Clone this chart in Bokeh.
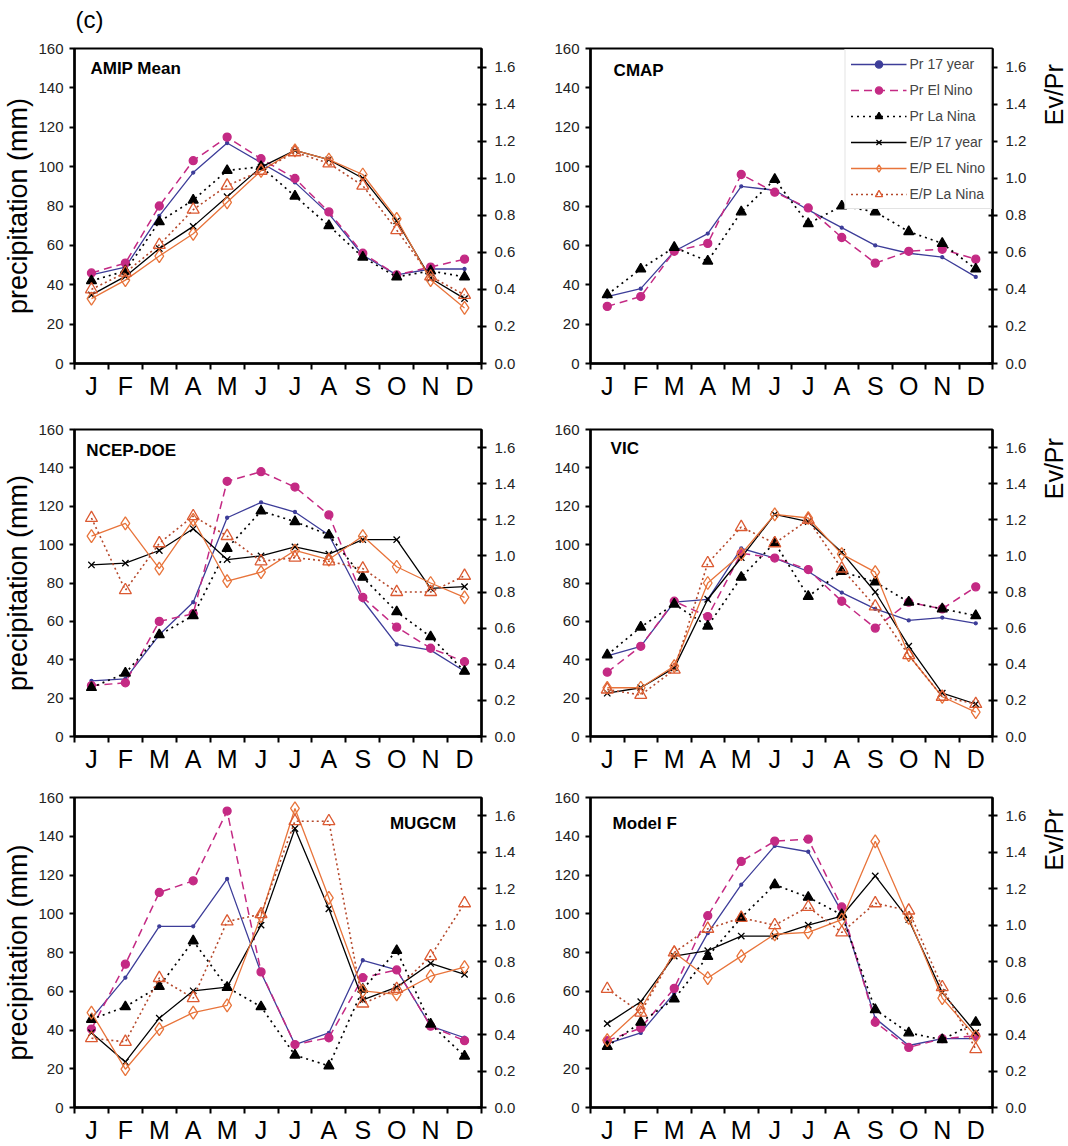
import json
from math import pi

import numpy as np
from bokeh.embed import file_html
from bokeh.layouts import column, row
from bokeh.models import (ColumnDataSource, CustomJSTickFormatter, FixedTicker, Label,
                          Legend, LegendItem, LinearAxis, PrintfTickFormatter, Range1d)
from bokeh.plotting import figure
from bokeh.resources import INLINE

FONT = "Liberation Sans"

# ---- data -----------------------------------------------------------------
month_labels = ["J", "F", "M", "A", "M", "J", "J", "A", "S", "O", "N", "D"]
pr_ticks = [0, 20, 40, 60, 80, 100, 120, 140, 160]
ep_ticks = [0.0, 0.2, 0.4, 0.6, 0.8, 1.0, 1.2, 1.4, 1.6]

# AMIP Mean
amip_pr17 = [45, 49, 75, 97, 112, 102, 92, 76, 55, 45, 48, 48]
amip_pr_en = [46, 51, 80, 103, 115, 104, 94, 77, 56, 45, 49, 53]
amip_pr_ln = [42, 47, 72, 83, 98, 100, 85, 70, 54, 44, 47, 44]
amip_ep17 = [0.37, 0.47, 0.62, 0.74, 0.90, 1.06, 1.15, 1.10, 1.00, 0.77, 0.46, 0.35]
amip_ep_en = [0.35, 0.45, 0.58, 0.70, 0.87, 1.04, 1.15, 1.10, 1.02, 0.78, 0.45, 0.30]
amip_ep_ln = [0.40, 0.49, 0.64, 0.83, 0.96, 1.04, 1.14, 1.08, 0.96, 0.72, 0.47, 0.37]

# CMAP (precipitation only)
cmap_pr17 = [34, 38, 57, 66, 90, 88, 78, 69, 60, 56, 54, 44]
cmap_pr_en = [29, 34, 57, 61, 96, 87, 79, 64, 51, 57, 58, 53]
cmap_pr_ln = [35, 48, 59, 52, 77, 93.5, 71, 80, 77, 67, 61, 48]

# NCEP-DOE
ncep_pr17 = [29, 30, 53, 70, 114, 122, 117, 105, 71, 48, 45, 34]
ncep_pr_en = [26.5, 28, 60, 64, 133, 138, 130, 115.5, 72.5, 57, 46, 39]
ncep_pr_ln = [25.5, 33, 53, 63, 98, 117.5, 112, 105, 83, 65, 52, 34]
ncep_ep17 = [0.95, 0.96, 1.03, 1.15, 0.98, 1.00, 1.05, 1.01, 1.09, 1.09, 0.82, 0.83]
ncep_ep_en = [1.11, 1.18, 0.93, 1.20, 0.86, 0.91, 1.03, 0.98, 1.11, 0.94, 0.85, 0.77]
ncep_ep_ln = [1.21, 0.81, 1.07, 1.22, 1.11, 0.97, 0.99, 0.97, 0.93, 0.80, 0.80, 0.89]

# VIC
vic_pr17 = [42, 47, 70, 71.5, 98, 93, 86, 75, 66.5, 60.5, 62, 59]
vic_pr_en = [33.5, 47, 70.5, 62.5, 95.5, 93, 87, 70.5, 56.5, 70, 66.5, 78]
vic_pr_ln = [42.5, 57, 69, 57.5, 83, 101, 73, 86, 80.5, 70, 66.5, 63]
vic_ep17 = [0.24, 0.27, 0.38, 0.76, 0.99, 1.23, 1.19, 1.02, 0.80, 0.50, 0.24, 0.18]
vic_ep_en = [0.27, 0.27, 0.39, 0.85, 1.01, 1.23, 1.21, 1.01, 0.91, 0.45, 0.22, 0.135]
vic_ep_ln = [0.26, 0.23, 0.37, 0.96, 1.16, 1.07, 1.20, 0.93, 0.72, 0.45, 0.22, 0.18]

# MUGCM
mug_pr17 = [46, 67, 93.5, 93.5, 118, 69.5, 32.5, 38.5, 76, 71, 42, 36]
mug_pr_en = [40.5, 74, 111, 117, 153, 70, 32.5, 36, 67, 71, 42, 34.5]
mug_pr_ln = [45.5, 52, 62.5, 86, 62, 52, 27, 21.5, 61, 81, 43, 26.5]
mug_ep17 = [0.41, 0.25, 0.49, 0.64, 0.66, 1.00, 1.53, 1.09, 0.59, 0.66, 0.79, 0.73]
mug_ep_en = [0.52, 0.21, 0.43, 0.52, 0.56, 1.05, 1.64, 1.15, 0.64, 0.62, 0.72, 0.77]
mug_ep_ln = [0.38, 0.36, 0.71, 0.60, 1.02, 1.06, 1.57, 1.57, 0.57, 0.65, 0.83, 1.12]

# Model F
mf_pr17 = [33, 38.5, 59, 90, 115, 135, 132, 101, 46, 32, 35.5, 35.5]
mf_pr_en = [34.5, 41, 61.5, 99, 127, 137.5, 138.5, 103.5, 44, 31, 35.5, 37]
mf_pr_ln = [31.5, 44, 56, 78, 98, 115, 108.5, 99.5, 50.5, 38.5, 35, 44]
mf_ep17 = [0.46, 0.58, 0.83, 0.86, 0.94, 0.94, 1.00, 1.05, 1.27, 1.03, 0.63, 0.41]
mf_ep_en = [0.37, 0.54, 0.85, 0.71, 0.83, 0.95, 0.96, 1.03, 1.46, 1.04, 0.60, 0.39]
mf_ep_ln = [0.65, 0.52, 0.85, 0.98, 1.04, 1.00, 1.10, 0.96, 1.12, 1.08, 0.66, 0.32]

# ---- styles ---------------------------------------------------------------
BLUE = "#3d3d99"
PINK = "#c42a84"
ORANGE = "#e8743b"
BROWN = "#b5492c"
LN_ORANGE = "#dc5a32"

SERIES = [
    dict(key="pr17", label="Pr 17 year", axis="default", line_color=BLUE, dash="solid", lw=1.3,
         marker="circle", size=3, mline=BLUE, mfill=BLUE),
    dict(key="pr_en", label="Pr El Nino", axis="default", line_color=PINK, dash="8 5", lw=1.5,
         marker="circle", size=8, mline=PINK, mfill=PINK),
    dict(key="pr_ln", label="Pr La Nina", axis="default", line_color="black", dash="2 4", lw=1.7,
         marker="triangle", size=10, mline="black", mfill="black"),
    dict(key="ep17", label="E/P 17 year", axis="ep", line_color="black", dash="solid", lw=1.3,
         marker="x", size=9, mline="black", mfill=None),
    dict(key="ep_en", label="E/P EL Nino", axis="ep", line_color=ORANGE, dash="solid", lw=1.3,
         marker="diamond", size=13, mline=ORANGE, mfill=None),
    dict(key="ep_ln", label="E/P La Nina", axis="ep", line_color=BROWN, dash="2 3", lw=1.6,
         marker="triangle", size=12, mline=LN_ORANGE, mfill=None),
]

month_x = np.arange(len(month_labels)) + 0.5


def text_strip(width, height, x, y, text, size, angle=0.0, align="left"):
    """Axis-free figure used only to place a caption in pixel units."""
    f = figure(width=width, height=height, x_range=Range1d(0, width), y_range=Range1d(0, height),
               output_backend="svg", toolbar_location=None,
               x_axis_location=None, y_axis_location=None, min_border=0,
               background_fill_color="white", border_fill_color="white")
    f.outline_line_color = None
    f.xgrid.visible = False
    f.ygrid.visible = False
    f.add_layout(Label(x=x, y=y, text=text, text_font=FONT, text_font_size=size, angle=angle,
                       text_align=align, text_baseline="middle", text_color="black"))
    return f


def make_panel(title, series, *, width, height, borders, title_pos, title_align="left",
               ylabel=False, legend=False):
    left, right, top, bottom = borders
    p = figure(width=width, height=height, x_range=Range1d(0, 12), y_range=Range1d(0, 160),
               output_backend="svg", toolbar_location=None,
               min_border_left=left, min_border_right=right,
               min_border_top=top, min_border_bottom=bottom,
               background_fill_color="white", border_fill_color="white")
    p.extra_y_ranges = {"ep": Range1d(0, 1.7)}
    p.xgrid.visible = False
    p.ygrid.visible = False
    p.outline_line_color = "black"
    p.outline_line_width = 2
    p.outline_line_alpha = 1

    # month axis: labels centred in each month, tick marks on month boundaries
    xa = p.xaxis[0]
    xa.ticker = FixedTicker(ticks=list(month_x), minor_ticks=list(range(13)))
    xa.formatter = CustomJSTickFormatter(
        code="const m = %s; return m[Math.round(tick - 0.5)];" % json.dumps(month_labels))
    xa.major_tick_in = 0
    xa.major_tick_out = 0
    xa.minor_tick_in = 0
    xa.minor_tick_out = 6
    xa.minor_tick_line_width = 2
    xa.axis_line_width = 2.5
    xa.major_label_text_font = FONT
    xa.major_label_text_font_size = "25px"
    xa.major_label_standoff = 2
    xa.major_label_text_color = "black"

    ya = p.yaxis[0]
    ya.ticker = FixedTicker(ticks=pr_ticks)
    ya.major_tick_in = 0
    ya.major_tick_out = 5
    ya.minor_tick_out = 0
    ya.minor_tick_in = 0
    ya.major_tick_line_width = 2
    ya.axis_line_width = 2.5
    ya.major_label_text_font = FONT
    ya.major_label_text_font_size = "15px"
    ya.major_label_standoff = 6
    ya.major_label_text_color = "#222222"
    if ylabel:
        ya.axis_label = "precipitation (mm)"
        ya.axis_label_text_font = FONT
        ya.axis_label_text_font_size = "27px"
        ya.axis_label_text_font_style = "normal"
        ya.axis_label_text_color = "black"
        ya.axis_label_standoff = 2

    ra = LinearAxis(y_range_name="ep", ticker=FixedTicker(ticks=ep_ticks),
                    formatter=PrintfTickFormatter(format="%.1f"))
    ra.major_tick_in = 4
    ra.major_tick_out = 5
    ra.minor_tick_in = 0
    ra.minor_tick_out = 0
    ra.major_tick_line_width = 2
    ra.axis_line_width = 2.5
    ra.major_label_text_font = FONT
    ra.major_label_text_font_size = "15px"
    ra.major_label_standoff = 8
    ra.major_label_text_color = "#222222"
    p.add_layout(ra, "right")

    items = []
    for st in SERIES:
        yvals = series.get(st["key"])
        if yvals:
            src = ColumnDataSource(dict(x=list(month_x), y=list(yvals)))
        else:
            src = ColumnDataSource(dict(x=[np.nan], y=[np.nan]))
        lr = p.line("x", "y", source=src, line_color=st["line_color"], line_width=st["lw"],
                    line_dash=st["dash"], y_range_name=st["axis"])
        sr = p.scatter("x", "y", source=src, marker=st["marker"], size=st["size"],
                       line_color=st["mline"], line_width=1.3,
                       fill_color=st["mfill"], y_range_name=st["axis"])
        items.append(LegendItem(label=st["label"], renderers=[lr, sr]))

    if legend:
        lg = Legend(items=items, location="top_right")
        lg.border_line_color = "#c8c8c8"
        lg.border_line_width = 1
        lg.background_fill_color = "white"
        lg.background_fill_alpha = 1
        lg.label_text_font = FONT
        lg.label_text_font_size = "14px"
        lg.glyph_width = 56
        lg.glyph_height = 18
        lg.spacing = 8
        lg.padding = 5
        lg.margin = 1
        lg.label_standoff = 3
        p.add_layout(lg)

    p.add_layout(Label(x=title_pos[0], y=title_pos[1], text=title, text_font=FONT,
                       text_font_size="17px", text_font_style="bold", text_align=title_align,
                       text_baseline="middle", text_color="black"))
    return p


header = text_strip(1068, 36, 75, 17, "(c)", "24px")

p1 = make_panel("AMIP Mean",
                dict(pr17=amip_pr17, pr_en=amip_pr_en, pr_ln=amip_pr_ln,
                     ep17=amip_ep17, ep_en=amip_ep_en, ep_ln=amip_ep_ln),
                width=534, height=368, borders=(72, 53, 9, 40),
                title_pos=(0.47, 150), ylabel=True)
p2 = make_panel("CMAP", dict(pr17=cmap_pr17, pr_en=cmap_pr_en, pr_ln=cmap_pr_ln),
                width=496, height=368, borders=(56, 38, 12, 41),
                title_pos=(0.69, 149), legend=True)
e1 = text_strip(38, 368, 23, 314, "Ev/Pr", "25px", angle=pi / 2, align="center")

p3 = make_panel("NCEP-DOE",
                dict(pr17=ncep_pr17, pr_en=ncep_pr_en, pr_ln=ncep_pr_ln,
                     ep17=ncep_ep17, ep_en=ncep_ep_en, ep_ln=ncep_ep_ln),
                width=534, height=376, borders=(72, 53, 25, 40),
                title_pos=(0.35, 149), ylabel=True)
p4 = make_panel("VIC",
                dict(pr17=vic_pr17, pr_en=vic_pr_en, pr_ln=vic_pr_ln,
                     ep17=vic_ep17, ep_en=vic_ep_en, ep_ln=vic_ep_ln),
                width=496, height=376, borders=(56, 38, 17, 44),
                title_pos=(0.6, 150))
e2 = text_strip(38, 376, 23, 328, "Ev/Pr", "25px", angle=pi / 2, align="center")

p5 = make_panel("MUGCM",
                dict(pr17=mug_pr17, pr_en=mug_pr_en, pr_ln=mug_pr_ln,
                     ep17=mug_ep17, ep_en=mug_ep_en, ep_ln=mug_ep_ln),
                width=534, height=366, borders=(72, 53, 17, 38),
                title_pos=(11.25, 146.5), title_align="right", ylabel=True)
p6 = make_panel("Model F",
                dict(pr17=mf_pr17, pr_en=mf_pr_en, pr_ln=mf_pr_ln,
                     ep17=mf_ep17, ep_en=mf_ep_en, ep_ln=mf_ep_ln),
                width=496, height=366, borders=(56, 38, 13, 36),
                title_pos=(0.66, 146.5))
e3 = text_strip(38, 366, 23, 316, "Ev/Pr", "25px", angle=pi / 2, align="center")

layout = column(header, row(p1, p2, e1), row(p3, p4, e2), row(p5, p6, e3))

with open("out.html", "w") as f:
    f.write(file_html(layout, INLINE))
